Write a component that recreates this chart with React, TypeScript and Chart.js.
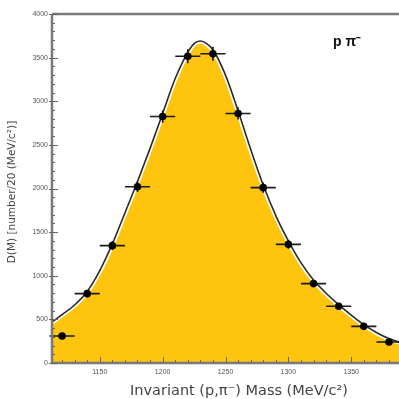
import React, { useEffect, useRef } from "react";
import { Chart, registerables } from "chart.js";

Chart.register(...registerables);

// Measured points (bin centres, MeV/c^2) and counts per 20 MeV/c^2
const massBins = [1120, 1140, 1160, 1180, 1200, 1220, 1240, 1260, 1280, 1300, 1320, 1340, 1360, 1380];
const counts = [310, 795, 1345, 2020, 2825, 3515, 3545, 2860, 2010, 1360, 910, 650, 420, 240];
const countErrors = [25, 40, 50, 60, 70, 80, 80, 70, 60, 50, 40, 35, 30, 25];
const binHalfWidth = 10;

// Fitted curve
const curveMass = [1112, 1120, 1130, 1140, 1150, 1160, 1170, 1180, 1190, 1200, 1210, 1220, 1225, 1230, 1235, 1240, 1250, 1260, 1270, 1280, 1290, 1300, 1310, 1320, 1330, 1340, 1350, 1360, 1370, 1380, 1388];
const curveValues = [470, 555, 665, 820, 1060, 1365, 1720, 2080, 2460, 2860, 3260, 3560, 3660, 3690, 3660, 3590, 3300, 2890, 2450, 2040, 1690, 1400, 1150, 950, 800, 670, 550, 440, 350, 280, 240];

// Axis ticks
const yTicks = [0, 500, 1000, 1500, 2000, 2500, 3000, 3500, 4000];
const xTicks = [1150, 1200, 1250, 1300, 1350];

const X_MIN = 1112;
const X_MAX = 1388;
const Y_MIN = 0;
const Y_MAX = 4000;

export default function App() {
  const canvasRef = useRef<HTMLCanvasElement | null>(null);

  useEffect(() => {
    document.body.style.margin = "0";
    const canvas = canvasRef.current;
    if (!canvas) return;

    const overlay = {
      id: "overlay",
      afterDatasetsDraw(chart: any) {
        const { ctx, scales } = chart;
        const xs = scales.x;
        const ys = scales.y;
        ctx.save();
        ctx.strokeStyle = "#1a1a1a";
        ctx.lineWidth = 1.6;
        for (let i = 0; i < massBins.length; i++) {
          const px = xs.getPixelForValue(massBins[i]);
          const py = ys.getPixelForValue(counts[i]);
          const x1 = xs.getPixelForValue(massBins[i] - binHalfWidth);
          const x2 = xs.getPixelForValue(Math.min(massBins[i] + binHalfWidth, X_MAX));
          const y1 = ys.getPixelForValue(counts[i] - countErrors[i]);
          const y2 = ys.getPixelForValue(counts[i] + countErrors[i]);
          ctx.beginPath();
          ctx.moveTo(x1, py);
          ctx.lineTo(x2, py);
          ctx.moveTo(px, y1);
          ctx.lineTo(px, y2);
          ctx.stroke();
          ctx.beginPath();
          ctx.fillStyle = "#000";
          ctx.arc(px, py, 3.8, 0, Math.PI * 2);
          ctx.fill();
        }
        ctx.restore();
      },
      afterDraw(chart: any) {
        const { ctx, chartArea, scales } = chart;
        const xs = scales.x;
        const ys = scales.y;
        const { left, right, top, bottom } = chartArea;
        ctx.save();
        // frame
        ctx.strokeStyle = "#7a7a7a";
        ctx.lineWidth = 2.5;
        ctx.beginPath();
        ctx.moveTo(left, top);
        ctx.lineTo(right, top);
        ctx.moveTo(left, top);
        ctx.lineTo(left, bottom);
        ctx.lineTo(right, bottom);
        ctx.stroke();
        // ticks (inward)
        ctx.lineWidth = 1;
        ctx.strokeStyle = "#666";
        ctx.beginPath();
        for (let v = Y_MIN; v <= Y_MAX; v += 100) {
          const py = Math.round(ys.getPixelForValue(v)) + 0.5;
          const len = v % 500 === 0 ? 6 : 3;
          ctx.moveTo(left - (v % 500 === 0 ? 3 : 0), py);
          ctx.lineTo(left + len, py);
        }
        for (let v = 1120; v <= X_MAX; v += 10) {
          const px = Math.round(xs.getPixelForValue(v)) + 0.5;
          const len = v % 50 === 0 ? 6 : 3;
          ctx.moveTo(px, bottom);
          ctx.lineTo(px, bottom - len);
        }
        ctx.stroke();
        // tick labels
        ctx.fillStyle = "#555";
        ctx.font = "7px 'Liberation Sans', Arial, sans-serif";
        ctx.textAlign = "right";
        ctx.textBaseline = "middle";
        yTicks.forEach((v) => {
          ctx.fillText(String(v), left - 4, ys.getPixelForValue(v));
        });
        ctx.textAlign = "center";
        ctx.textBaseline = "top";
        xTicks.forEach((v) => {
          ctx.fillText(String(v), xs.getPixelForValue(v), bottom + 6);
        });
        // axis titles
        ctx.fillStyle = "#444";
        ctx.font = "14.5px 'DejaVu Sans', sans-serif";
        ctx.textAlign = "center";
        ctx.textBaseline = "middle";
        ctx.fillText("Invariant (p,π⁻) Mass (MeV/c²)", 239, 391);
        ctx.save();
        ctx.translate(12, 192);
        ctx.rotate(-Math.PI / 2);
        ctx.font = "10.5px 'DejaVu Sans', sans-serif";
        ctx.fillText("D(M) [number/20 (MeV/c²)]", 0, 0);
        ctx.restore();
        // label
        ctx.fillStyle = "#111";
        ctx.font = "bold 14px 'Liberation Sans', Arial, sans-serif";
        ctx.textAlign = "left";
        ctx.fillText("p π⁻", 333, 42);
        ctx.restore();
      },
    };

    const chart = new Chart(canvas, {
      type: "line",
      data: {
        datasets: [
          {
            label: "fill",
            data: curveMass.map((m, i) => ({ x: m, y: curveValues[i] })),
            borderColor: "#ffffff",
            borderWidth: 5,
            backgroundColor: "#FFC40D",
            fill: "origin",
            pointRadius: 0,
            cubicInterpolationMode: "monotone",
            order: 2,
          },
          {
            label: "curve",
            data: curveMass.map((m, i) => ({ x: m, y: curveValues[i] })),
            borderColor: "#2a2a2a",
            borderWidth: 1.6,
            fill: false,
            pointRadius: 0,
            cubicInterpolationMode: "monotone",
            order: 1,
          },
        ],
      },
      options: {
        animation: false,
        responsive: false,
        maintainAspectRatio: false,
        layout: { padding: { left: 0, right: 0, top: 14, bottom: 0 } },
        plugins: { legend: { display: false }, tooltip: { enabled: false } },
        scales: {
          x: {
            type: "linear",
            min: X_MIN,
            max: X_MAX,
            grid: { display: false, drawTicks: false },
            border: { display: false },
            ticks: { display: false },
            afterFit: (s: any) => { s.height = 36; },
          },
          y: {
            type: "linear",
            min: Y_MIN,
            max: Y_MAX,
            grid: { display: false, drawTicks: false },
            border: { display: false },
            ticks: { display: false },
            afterFit: (s: any) => { s.width = 52; },
          },
        },
      },
      plugins: [overlay],
    });
    return () => chart.destroy();
  }, []);

  return (
    <div style={{ position: "relative", width: 399, height: 399 }}>
      <canvas ref={canvasRef} width={399} height={399} style={{ width: 399, height: 399, display: "block" }} />
    </div>
  );
}
